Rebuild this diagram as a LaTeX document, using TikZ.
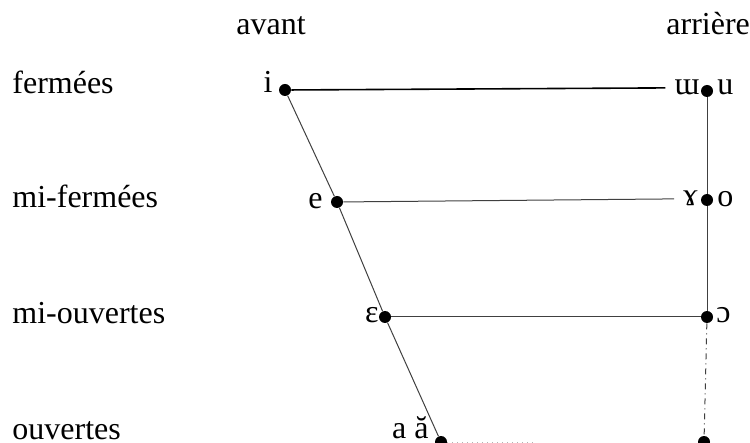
\documentclass[tikz,border=0pt]{standalone}
\usepackage{fontspec}
\setmainfont{Liberation Serif}
\usetikzlibrary{positioning}

\begin{document}
\begin{tikzpicture}[
  x=0.5pt, y=-0.5pt,
  font=\fontsize{16}{19}\selectfont,
  every node/.style={inner sep=0pt},
  dot/.style={circle, fill, inner sep=0pt, minimum size=6pt},
  rowlabel/.style={anchor=base west},
  vlabel/.style={anchor=base east},
  rlabel/.style={anchor=base west},
  thin line/.style={line width=0.5pt, black!75}
  ]
  \useasboundingbox (0,0) rectangle (750,443);

  % column and row headings
  \node[anchor=base] (avant) at (271,35) {avant};
  \node[rlabel] (arriere) at (666,35) {arrière};
  \node[rowlabel] (fermees) at (12,94) {fermées};
  \node[rowlabel] (mifermees) at (12,208) {mi-fermées};
  \node[rowlabel] (miouvertes) at (12,324) {mi-ouvertes};
  \node[rowlabel] (ouvertes) at (12,439) {ouvertes};

  % dots
  \node[dot] (i) at (285,90) {};
  \node[dot] (e) at (337,202) {};
  \node[dot] (eps) at (385,317) {};
  \node[dot] (a) at (441,442) {};
  \node[dot] (u) at (707,91) {};
  \node[dot] (o) at (707,200) {};
  \node[dot] (oo) at (707,317) {};
  \node[dot] (bot) at (704,442) {};
  \coordinate (aend) at (537,442);

  % vowel symbols
  \node[vlabel] (li) at (273,93) {i};
  \node[vlabel] (le) at (323,209) {e};
  \node[vlabel] (leps) at (379,323) {ɛ};
  \node[vlabel] (la) at (429,438) {a ă};
  \node[vlabel] (lww) at (700,95) {ɯ};
  \node[rlabel] (lu) at (717,95) {u};
  \node[vlabel] (lgam) at (698,206) {ɤ};
  \node[rlabel] (lo) at (717,207) {o};
  \node[rlabel] (loo) at (716,323) {ɔ};

  % lines
  \draw[line width=0.8pt, shorten >=4.5pt] (i) -- (lww.west);
  \draw[thin line, shorten >=4.5pt] (e) -- (lgam.west);
  \draw[thin line] (eps) -- (oo);
  \draw[thin line] (i) -- (e) -- (eps) -- (a);
  \draw[thin line] (u) -- (o) -- (oo);
  \draw[thin line, dash dot] (oo) -- (bot);
  \draw[line width=0.5pt, black!30, dotted] (a) -- (aend);
\end{tikzpicture}
\end{document}
